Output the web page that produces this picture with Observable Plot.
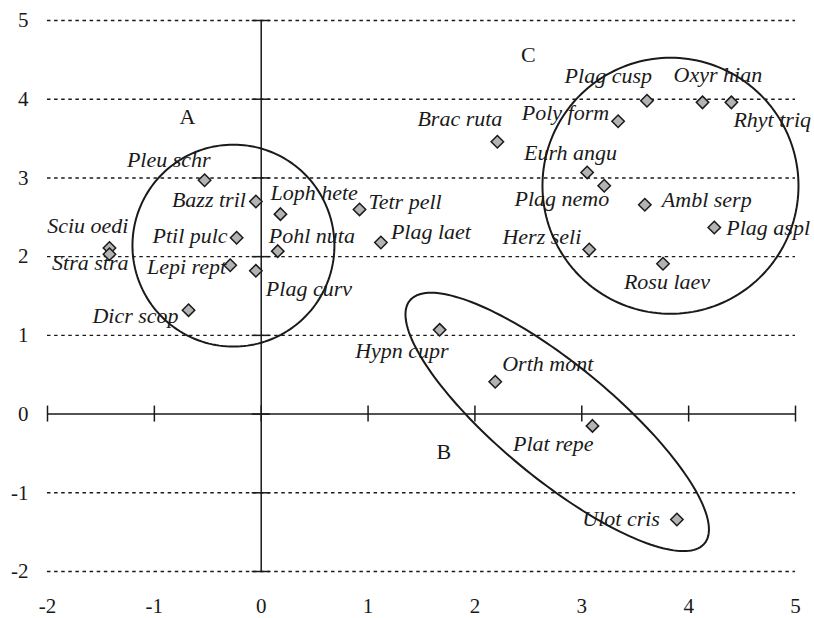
<!DOCTYPE html>
<html>
<head>
<meta charset="utf-8">
<script src="https://cdn.jsdelivr.net/npm/d3@7"></script>
<script src="https://cdn.jsdelivr.net/npm/@observablehq/plot@0.6"></script>
<style>
  html, body { margin: 0; padding: 0; background: #fff; }
</style>
</head>
<body>
<div id="chart"></div>
<script>
// ---------- data ----------
const species = [
  "Pleu schr", "Bazz tril", "Ptil pulc", "Sciu oedi", "Stra stra", "Lepi rept",
  "Plag curv", "Dicr scop", "Loph hete", "Pohl nuta", "Tetr pell", "Plag laet",
  "Brac ruta", "Plag cusp", "Oxyr hian", "Rhyt triq", "Poly form", "Eurh angu",
  "Plag nemo", "Ambl serp", "Plag aspl", "Herz seli", "Rosu laev",
  "Hypn cupr", "Orth mont", "Plat repe", "Ulot cris"
];
const axis1 = [
  -0.53, -0.05, -0.23, -1.42, -1.42, -0.29,
  -0.05, -0.68, 0.18, 0.155, 0.92, 1.12,
  2.21, 3.61, 4.13, 4.40, 3.34, 3.05,
  3.21, 3.59, 4.24, 3.07, 3.76,
  1.67, 2.19, 3.10, 3.89
];
const axis2 = [
  2.97, 2.70, 2.24, 2.11, 2.03, 1.89,
  1.82, 1.32, 2.54, 2.07, 2.60, 2.18,
  3.46, 3.98, 3.96, 3.96, 3.72, 3.07,
  2.90, 2.66, 2.37, 2.09, 1.91,
  1.07, 0.41, -0.15, -1.34
];

const groupNames = ["A", "B", "C"];
const groupLabelX = [-0.69, 1.71, 2.50];
const groupLabelY = [3.77, -0.48, 4.56];

// group outlines: centre, semi-axes (in x-axis units of equal screen length), tilt
const outlineCX = [-0.26, 2.77, 3.83];
const outlineCY = [2.14, -0.10, 2.90];
const outlineSemiMajor = [0.945, 1.787, 1.198];
const outlineSemiMinor = [0.945, 0.533, 1.198];
const outlineTiltDeg = [0, 39.5, 0];

const xTicks = [-2, -1, 0, 1, 2, 3, 4, 5];
const yTicks = [-2, -1, 0, 1, 2, 3, 4, 5];
const xTickLabels = ["-2", "-1", "0", "1", "2", "3", "4", "5"];
const yTickLabels = ["-2", "-1", "0", "1", "2", "3", "4", "5"];

// ---------- layout ----------
const W = 814, H = 618;
const M = {left: 47, right: 19, top: 20, bottom: 47};
const pxPerX = (W - M.left - M.right) / 7;
const pxPerY = (H - M.top - M.bottom) / 7;
const aspect = pxPerX / pxPerY;

// label placement: [anchor, dx, dy(baseline offset)]
const labelPlace = {
  "Pleu schr": ["end", 6, -13],
  "Bazz tril": ["end", -10, 5],
  "Ptil pulc": ["end", -9, 5],
  "Sciu oedi": ["end", 19, -15],
  "Stra stra": ["end", 19, 16],
  "Lepi rept": ["end", -4, 9],
  "Plag curv": ["start", 10, 25],
  "Dicr scop": ["end", -10, 13],
  "Loph hete": ["start", -10, -14],
  "Pohl nuta": ["start", -9, -8],
  "Tetr pell": ["start", 9, 0],
  "Plag laet": ["start", 10, -3],
  "Brac ruta": ["end", 5, -16],
  "Plag cusp": ["end", 5, -18],
  "Oxyr hian": ["start", -29, -20],
  "Rhyt triq": ["start", 2, 25],
  "Poly form": ["end", -9, -1],
  "Eurh angu": ["end", 30, -12],
  "Plag nemo": ["end", 5, 20],
  "Ambl serp": ["start", 17, 2],
  "Plag aspl": ["start", 12, 7],
  "Herz seli": ["end", -8, -6],
  "Rosu laev": ["middle", 4, 25],
  "Hypn cupr": ["end", 9, 28],
  "Orth mont": ["start", 7, -11],
  "Plat repe": ["end", 1, 25],
  "Ulot cris": ["end", -17, 6]
};

const points = species.map((s, i) => ({name: s, x: axis1[i], y: axis2[i]}));
const groups = groupNames.map((g, i) => ({name: g, x: groupLabelX[i], y: groupLabelY[i]}));
const xTickRows = xTicks.map((v, i) => ({v, label: xTickLabels[i]}));
const yTickRows = yTicks.map((v, i) => ({v, label: yTickLabels[i]}));

const outlinePts = [];
groupNames.forEach((g, i) => {
  const a = outlineSemiMajor[i], b = outlineSemiMinor[i];
  const th = outlineTiltDeg[i] * Math.PI / 180;
  for (let deg = 0; deg <= 360; deg += 2) {
    const t = deg * Math.PI / 180;
    const ox = a * Math.cos(t) * Math.cos(th) - b * Math.sin(t) * Math.sin(th);
    const oy = a * Math.cos(t) * Math.sin(th) + b * Math.sin(t) * Math.cos(th);
    outlinePts.push({g, x: outlineCX[i] + ox, y: outlineCY[i] - oy * aspect});
  }
});

const FONT = "'Liberation Serif', 'Times New Roman', Times, serif";
const INK = "#1a1a1a";

const labelMarks = points.map(p => {
  const [anchor, dx, dy] = labelPlace[p.name];
  return Plot.text([p], {
    x: "x", y: "y", text: "name",
    textAnchor: anchor, dx, dy, lineAnchor: "bottom",
    fontSize: 22, fontStyle: "italic", fill: INK
  });
});

const chart = Plot.plot({
  width: W,
  height: H,
  marginLeft: M.left,
  marginRight: M.right,
  marginTop: M.top,
  marginBottom: M.bottom,
  style: {fontFamily: FONT, background: "#fff", color: INK, overflow: "visible"},
  x: {domain: [-2, 5], axis: null},
  y: {domain: [-2, 5], axis: null},
  marks: [
    // dotted grid lines
    Plot.ruleY(yTicks.filter(d => d !== 0), {
      y: d => d, x1: () => -2, x2: () => 5,
      stroke: INK, strokeWidth: 1.4, strokeDasharray: "3.5,3.6"
    }),
    // axis lines through origin
    Plot.ruleY([0], {y: d => d, x1: () => -2, x2: () => 5, stroke: INK, strokeWidth: 1.5}),
    Plot.ruleX([0], {x: d => d, y1: () => -2, y2: () => 5, stroke: INK, strokeWidth: 1.5}),
    // crossing tick marks
    Plot.ruleX(xTicks, {x: d => d, y1: () => 0, y2: () => 0, insetTop: -8, insetBottom: -8, stroke: INK, strokeWidth: 1.5}),
    Plot.ruleY(yTicks, {y: d => d, x1: () => 0, x2: () => 0, insetLeft: -9, insetRight: -9, stroke: INK, strokeWidth: 1.5}),
    // tick labels
    Plot.text(xTickRows, {x: "v", y: () => -2, text: "label", dy: 27, lineAnchor: "top", fontSize: 21, fill: INK}),
    Plot.text(yTickRows, {x: () => -2, y: "v", text: "label", dx: -19, textAnchor: "end", fontSize: 21, fill: INK}),
    // group outlines
    Plot.line(outlinePts, {x: "x", y: "y", z: "g", stroke: INK, strokeWidth: 2, curve: "linear"}),
    // points
    Plot.dot(points, {x: "x", y: "y", symbol: "diamond2", r: 5.6, fill: "#b3b3b3", stroke: INK, strokeWidth: 1.5}),
    // species labels
    ...labelMarks,
    // group letters
    Plot.text(groups, {x: "x", y: "y", text: "name", fontSize: 22, fill: INK})
  ]
});

document.getElementById("chart").appendChild(chart);
</script>
</body>
</html>
